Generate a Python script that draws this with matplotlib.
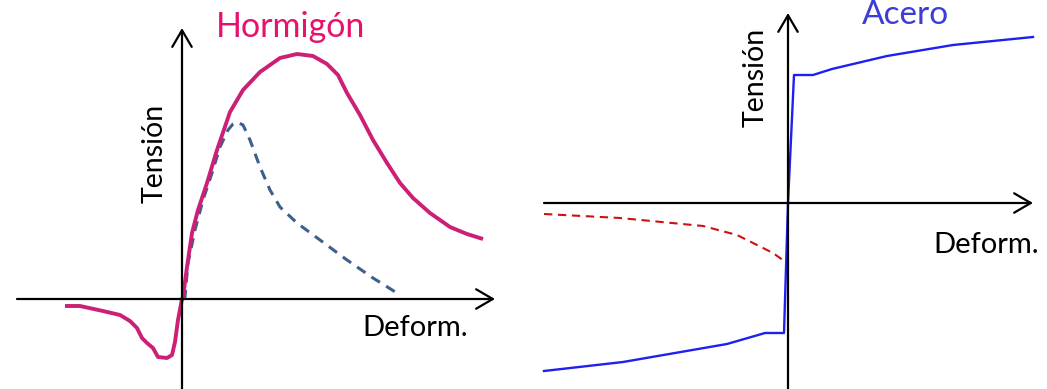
import numpy as np
import matplotlib
matplotlib.use("Agg")
from matplotlib import pyplot as plt

plt.rcParams['font.family'] = ['Lato', 'DejaVu Sans']

## Hormigon: tension-deformacion (unidades arbitrarias) -----------------
horm_def = [-117, -102, -79, -62, -52, -45, -40, -35, -29, -24, -15, -10, -7, -4, 0,
            1, 5, 10, 16, 25, 35, 48, 61, 78, 98, 115, 131, 145, 156, 165, 178,
            191, 205, 218, 231, 248, 268, 285, 301]
horm_ten = [-7, -7, -12, -16, -22, -29, -39, -44, -49, -58, -59, -56, -43, -21, 0,
            2, 32, 66, 89, 116, 149, 187, 209, 227, 241, 245, 243, 235, 224, 206, 184,
            159, 136, 116, 101, 86, 72, 65, 60]

# curva discontinua
conf_def = [1, 3, 6, 13, 21, 30, 38, 46, 51, 55, 61, 68, 78, 88, 98, 115, 138, 165, 191, 215]
conf_ten = [0, 2, 36, 69, 99, 126, 152, 169, 175, 177, 174, 159, 132, 109, 92, 76, 59, 39, 21, 6]

## Acero ----------------------------------------------------------------
acero_def = [-244, -165, -61, -23, -4, 0, 6, 25, 44, 99, 165, 245]
acero_ten = [-168, -159, -141, -130, -130, 0, 128, 128, 134, 147, 158, 166]

pandeo_def = [-244, -168, -85, -51, -15, -1]
pandeo_ten = [-11, -15, -23, -32, -50, -60]

W, H = 1047, 389
fig = plt.figure(figsize=(W / 100, H / 100), dpi=100)


def ejes(ax, x0, x1, y0, y1):
    ax.axis('off')
    for xy, xyt in [((x1, 0), (x0, 0)), ((0, y1), (0, y0))]:
        ax.annotate('', xy=xy, xytext=xyt,
                    arrowprops=dict(arrowstyle='->,head_length=0.6,head_width=0.35',
                                    lw=1.6, color='black', mutation_scale=20,
                                    shrinkA=0, shrinkB=0))


# panel izquierdo (1 unidad = 1 px)
ax1 = fig.add_axes([0, 0, 520 / W, 1])
ax1.set_xlim(-182, 338)
ax1.set_ylim(-90, 299)
ejes(ax1, -165, 313, -95, 271)
ax1.plot(conf_def, conf_ten, color='#3c5f8c', lw=2.2, dashes=(3.3, 2.4))
ax1.plot(horm_def, horm_ten, color='#cc1f76', lw=2.8, solid_capstyle='butt',
         solid_joinstyle='round')
ax1.text(109, 272, 'Hormigón', color='#e6126d', fontsize=24.5, ha='center', va='center')
ax1.text(-27, 146, 'Tensión', rotation=90, fontsize=20.5, ha='center', va='center')
ax1.text(233, -29, 'Deform.', fontsize=21, ha='center', va='center')

# panel derecho
ax2 = fig.add_axes([520 / W, 0, 527 / W, 1])
ax2.set_xlim(-268, 259)
ax2.set_ylim(-186, 203)
ejes(ax2, -244, 245, -190, 190)
ax2.plot(pandeo_def, pandeo_ten, color='#cc1111', lw=1.5, dashes=(4, 2.7))
ax2.plot(acero_def, acero_ten, color='#1f1ff0', lw=1.7)
ax2.text(117, 188, 'Acero', color='#3c3cd8', fontsize=24, ha='center', va='center')
ax2.text(-32, 126, 'Tensión', rotation=90, fontsize=20.5, ha='center', va='center')
ax2.text(198, -42, 'Deform.', fontsize=21, ha='center', va='center')

fig.savefig('out.png', dpi=100)
